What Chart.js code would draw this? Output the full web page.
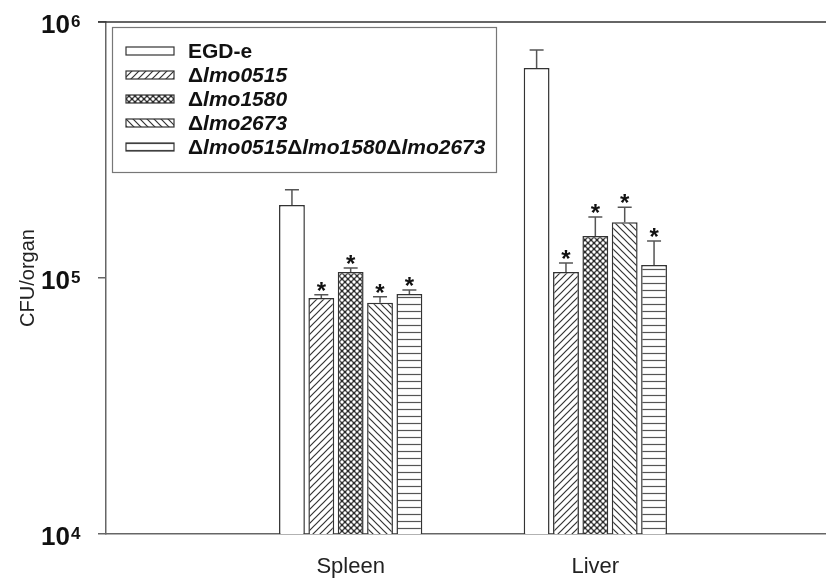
<!DOCTYPE html>
<html>
<head>
<meta charset="utf-8">
<script src="https://cdn.jsdelivr.net/npm/chart.js@4.4.1/dist/chart.umd.min.js"></script>
<style>
  body { margin: 0; background: #fff; overflow: hidden; }
  #wrap { position: absolute; left: 0; top: 0; width: 852px; height: 583px; }
</style>
</head>
<body>
<div id="wrap"><canvas id="grafica"></canvas></div>
<script>
// ===============================
// DATOS
// ===============================
const organos = ["Spleen", "Liver"];
const cepas = ["EGD-e", "Δlmo0515", "Δlmo1580", "Δlmo2673", "Δlmo0515Δlmo1580Δlmo2673"];

// CFU/organ (media) y error estándar, por órgano
const egd = [193000, 661000];
const lmo0515 = [83500, 105500];
const lmo1580 = [105500, 146000];
const lmo2673 = [80000, 165000];
const triple = [86500, 112500];

const errEgd = [28000, 116000];
const err0515 = [2500, 9000];
const err1580 = [4000, 27000];
const err2673 = [4500, 24000];
const errTriple = [3300, 27000];

// asterisco = diferencia significativa vs EGD-e
const signif = [false, true, true, true, true];

const ticksY = [1e4, 1e5, 1e6];

// ===============================
// TRAMAS
// ===============================
function crearTrama(tipo) {
  const c = document.createElement("canvas");
  const s = tipo === "puntos" ? 6 : 7;
  c.width = s;
  c.height = s;
  const g = c.getContext("2d");
  g.fillStyle = "#fff";
  g.fillRect(0, 0, s, s);
  g.strokeStyle = "#333";
  g.lineWidth = 1.2;
  g.beginPath();
  if (tipo === "diag") {
    g.moveTo(0, s); g.lineTo(s, 0);
    g.moveTo(-1, 1); g.lineTo(1, -1);
    g.moveTo(s - 1, s + 1); g.lineTo(s + 1, s - 1);
    g.stroke();
  } else if (tipo === "contra") {
    g.moveTo(0, 0); g.lineTo(s, s);
    g.moveTo(s - 1, -1); g.lineTo(s + 1, 1);
    g.moveTo(-1, s - 1); g.lineTo(1, s + 1);
    g.stroke();
  } else if (tipo === "horiz") {
    g.strokeStyle = "#555";
    g.moveTo(0, 3.5); g.lineTo(s, 3.5);
    g.stroke();
  } else if (tipo === "puntos") {
    g.fillStyle = "#2a2a2a";
    g.fillRect(0, 0, s, s);
    g.fillStyle = "#fff";
    [[0, 0], [s, 0], [0, s], [s, s], [s / 2, s / 2]].forEach(p => {
      g.beginPath();
      g.arc(p[0], p[1], 1.7, 0, Math.PI * 2);
      g.fill();
    });
  }
  return g.createPattern(c, "repeat");
}

const rellenos = [
  "#fff",
  crearTrama("diag"),
  crearTrama("puntos"),
  crearTrama("contra"),
  crearTrama("horiz")
];

const valores = [egd, lmo0515, lmo1580, lmo2673, triple];
const errores = [errEgd, err0515, err1580, err2673, errTriple];

// categorías vacías a los lados para dejar el hueco a izquierda y derecha
const etiquetas = ["", ...organos, ""];

const datasets = cepas.map((nombre, i) => ({
  label: nombre,
  data: [null, ...valores[i], null],
  backgroundColor: rellenos[i],
  borderColor: "#333",
  borderWidth: 1.5,
  borderSkipped: "bottom",
  categoryPercentage: 0.6,
  barPercentage: 0.88
}));

const fuente = "'Liberation Sans', Arial, sans-serif";

// ===============================
// PLUGINS: barras de error, asteriscos, leyenda, ejes
// ===============================
const extras = {
  id: "extras",
  afterDatasetsDraw(chart) {
    const ctx = chart.ctx;
    const y = chart.scales.y;
    ctx.save();
    chart.data.datasets.forEach((ds, i) => {
      const meta = chart.getDatasetMeta(i);
      organos.forEach((_, j) => {
        const bar = meta.data[j + 1];
        const v = valores[i][j];
        const top = y.getPixelForValue(v + errores[i][j]);
        const yv = y.getPixelForValue(v);
        ctx.strokeStyle = "#555";
        ctx.lineWidth = 1.5;
        ctx.beginPath();
        ctx.moveTo(bar.x, yv);
        ctx.lineTo(bar.x, top);
        ctx.moveTo(bar.x - 7, top);
        ctx.lineTo(bar.x + 7, top);
        ctx.stroke();
        if (signif[i]) {
          ctx.fillStyle = "#111";
          ctx.font = "bold 24px " + fuente;
          ctx.textAlign = "center";
          ctx.textBaseline = "alphabetic";
          ctx.fillText("*", bar.x, top + 4);
        }
      });
    });
    ctx.restore();
  },
  afterDraw(chart) {
    const ctx = chart.ctx;
    const area = chart.chartArea;
    const y = chart.scales.y;
    ctx.save();

    // línea superior del marco
    ctx.strokeStyle = "#333";
    ctx.lineWidth = 1.5;
    ctx.beginPath();
    ctx.moveTo(area.left - 8, area.top);
    ctx.lineTo(area.right, area.top);
    ctx.stroke();

    // etiquetas 10^n
    ticksY.forEach(v => {
      const py = y.getPixelForValue(v);
      ctx.fillStyle = "#111";
      ctx.textBaseline = "alphabetic";
      ctx.font = "bold 26px " + fuente;
      ctx.textAlign = "right";
      ctx.fillText("10", 70, py + 11);
      ctx.font = "bold 17px " + fuente;
      ctx.textAlign = "left";
      ctx.fillText(String(Math.round(Math.log10(v))), 71, py + 5);
    });

    // leyenda
    ctx.strokeStyle = "#777";
    ctx.lineWidth = 1.2;
    ctx.strokeRect(112.5, 27.5, 384, 145);
    cepas.forEach((nombre, i) => {
      const cy = 51 + 24 * i;
      ctx.fillStyle = rellenos[i];
      ctx.fillRect(126, cy - 4, 48, 8);
      ctx.strokeStyle = "#333";
      ctx.lineWidth = 1.2;
      ctx.strokeRect(126, cy - 4, 48, 8);

      ctx.fillStyle = "#111";
      ctx.textAlign = "left";
      ctx.textBaseline = "middle";
      let x = 188;
      const partes = nombre.split(/(Δ)/).filter(p => p !== "");
      partes.forEach(p => {
        const italica = p !== "Δ" && nombre.startsWith("Δ");
        ctx.font = (italica ? "italic " : "") + "bold 21px " + fuente;
        ctx.fillText(p, x, cy + 1);
        x += ctx.measureText(p).width;
      });
    });
    ctx.restore();
  }
};

// ===============================
// GRÁFICA
// ===============================
const ctx = document.getElementById("grafica").getContext("2d");

window.chart = new Chart(ctx, {
  type: "bar",
  data: { labels: etiquetas, datasets: datasets },
  options: {
    responsive: true,
    maintainAspectRatio: false,
    animation: false,
    layout: { padding: { left: 12, right: 12, top: 22, bottom: 5 } },
    plugins: {
      legend: { display: false },
      tooltip: { enabled: false }
    },
    scales: {
      x: {
        offset: false,
        grid: { display: false },
        border: { display: true, color: "#666", width: 1.5 },
        afterFit(scale) {
          scale.height = 44;
        },
        ticks: {
          color: "#222",
          font: { family: fuente, size: 22 },
          padding: 12,
          maxRotation: 0,
          autoSkip: false
        }
      },
      y: {
        type: "logarithmic",
        min: 1e4,
        max: 1e6,
        afterBuildTicks(scale) {
          scale.ticks = ticksY.map(v => ({ value: v }));
        },
        afterFit(scale) {
          scale.width = 94;
        },
        grid: {
          drawOnChartArea: false,
          drawTicks: true,
          tickLength: 8,
          color: "#666",
          lineWidth: 1.5
        },
        border: { display: true, color: "#666", width: 1.5 },
        ticks: { display: false },
        title: {
          display: true,
          text: "CFU/organ",
          color: "#222",
          font: { family: fuente, size: 20 },
          padding: { top: 4, bottom: 4 }
        }
      }
    }
  },
  plugins: [extras]
});
</script>
</body>
</html>
